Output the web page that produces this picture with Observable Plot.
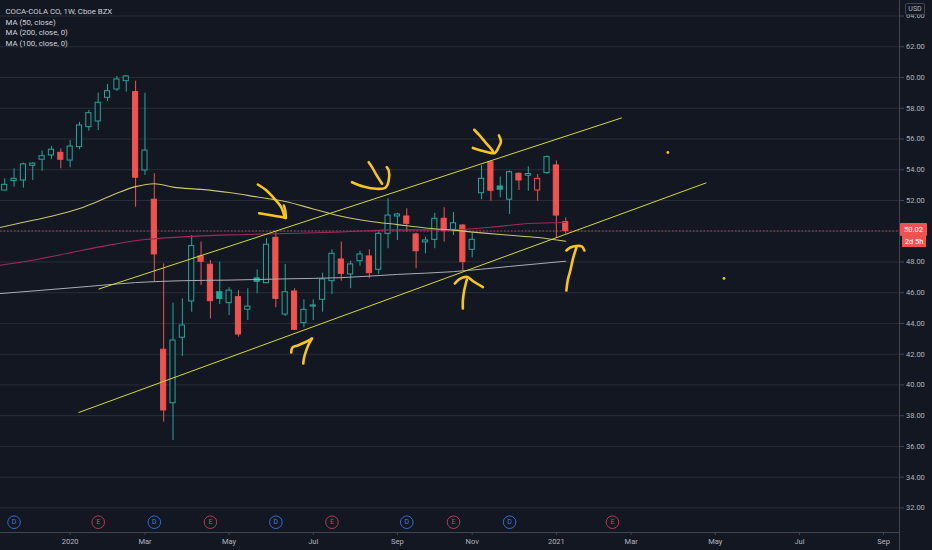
<!DOCTYPE html>
<html><head><meta charset="utf-8">
<script src="https://cdn.jsdelivr.net/npm/d3@7"></script>
<script src="https://cdn.jsdelivr.net/npm/@observablehq/plot@0.6"></script>
<style>
html,body{margin:0;padding:0;background:#131722;}
#wrap{position:relative;width:932px;height:550px;overflow:hidden;background:#131722;font-family:Roboto,"Noto Sans",sans-serif;}
.lbl{position:absolute;color:#fff;font-size:7.5px;text-align:center;line-height:12px;}
</style></head><body><div id="wrap"></div>
<script>
// ---- weekly candles (Cboe BZX, KO, 1W) ----
const dates = ["2019-11-11","2019-11-18","2019-11-25","2019-12-02","2019-12-09","2019-12-16","2019-12-23","2019-12-30",
"2020-01-06","2020-01-13","2020-01-20","2020-01-27","2020-02-03","2020-02-10","2020-02-17","2020-02-24",
"2020-03-02","2020-03-09","2020-03-16","2020-03-23","2020-03-30","2020-04-06","2020-04-13","2020-04-20",
"2020-04-27","2020-05-04","2020-05-11","2020-05-18","2020-05-25","2020-06-01","2020-06-08","2020-06-15",
"2020-06-22","2020-06-29","2020-07-06","2020-07-13","2020-07-20","2020-07-27","2020-08-03","2020-08-10",
"2020-08-17","2020-08-24","2020-08-31","2020-09-07","2020-09-14","2020-09-21","2020-09-28","2020-10-05",
"2020-10-12","2020-10-19","2020-10-26","2020-11-02","2020-11-09","2020-11-16","2020-11-23","2020-11-30",
"2020-12-07","2020-12-14","2020-12-21","2020-12-28","2021-01-04","2021-01-11"];
const open  = [52.45,52.65,53.26,53.30,54.26,54.65,54.93,55.10, 54.60,55.47,56.77,57.14,58.68,59.22,59.76,59.05,
53.95,52.05,42.29,38.81,43.07,45.43,48.36,47.82, 46.03,45.32,45.71,44.89,46.93,46.62,49.57,44.58,
46.08,44.02,45.10,45.54,46.75,48.16,47.19,48.05, 48.36,47.49,49.83,50.96,50.96,49.79,49.27,49.44,
50.81,50.09,50.37,48.79,52.47,54.49,52.91,52.05, 53.74,53.61,52.65,53.78,54.28,50.59];
const high  = [52.75,53.41,54.06,54.43,54.45,55.21,55.51,55.36, 55.90,57.09,57.86,58.98,59.55,60.07,60.13,59.76,
58.98,53.74,47.88,45.32,45.60,49.72,49.29,48.10, 47.99,46.32,46.14,46.26,47.49,49.51,49.94,47.84,
46.26,45.54,45.54,47.27,48.79,49.29,48.05,48.70, 48.79,49.94,52.11,51.17,51.46,49.87,49.61,51.17,
51.53,51.22,50.44,49.85,54.28,54.58,53.53,53.92, 53.79,54.19,53.69,54.90,54.57,50.87];
const low   = [52.20,52.61,52.87,52.80,53.30,53.89,54.67,54.06, 54.13,55.30,56.51,56.55,58.44,59.09,59.05,51.56,
53.63,46.68,37.58,36.39,41.85,44.73,46.47,44.30, 45.23,44.52,43.11,44.19,45.93,46.58,45.02,44.45,
43.54,43.72,44.19,44.73,45.88,46.75,46.26,47.71, 46.91,47.19,48.86,49.40,49.94,47.56,48.53,48.86,
49.29,49.72,47.41,48.27,52.05,51.95,52.18,51.09, 52.65,52.60,51.95,53.69,49.53,49.83];
const close = [52.62,53.02,53.41,54.35,54.40,54.88,55.30,54.65, 55.51,56.88,57.68,58.36,59.11,59.87,60.07,53.48,
55.25,48.49,38.34,42.89,43.87,49.03,48.01,45.45, 45.60,46.14,43.28,45.10,46.71,49.12,45.60,46.03,
43.59,44.89,45.17,46.86,48.53,47.23,47.84,48.49, 47.27,49.83,51.02,51.09,50.48,48.70,49.40,50.81,
50.02,50.52,47.99,49.44,53.41,52.63,52.70,53.84, 53.30,53.72,53.41,54.82,51.02,50.02];

// ---- moving averages ----
const ma50Dates  = ["2019-11-11","2019-12-02","2019-12-23","2020-01-13","2020-01-27","2020-02-10","2020-02-24","2020-03-09","2020-03-23","2020-04-13","2020-05-04","2020-05-25","2020-06-15","2020-07-06","2020-07-27","2020-08-17","2020-09-07","2020-09-28","2020-10-19","2020-11-09","2020-11-30","2020-12-21","2021-01-11"];
const ma50Values = [50.18,50.58,50.98,51.48,51.95,52.47,52.90,53.09,52.87,52.72,52.52,52.23,51.93,51.45,50.97,50.65,50.43,50.21,50.07,49.89,49.74,49.59,49.35];
const ma100Dates  = ["2019-11-11","2019-12-09","2020-01-06","2020-02-03","2020-03-02","2020-03-30","2020-05-04","2020-06-15","2020-07-27","2020-09-07","2020-10-19","2020-11-16","2020-12-14","2021-01-11"];
const ma100Values = [47.74,48.11,48.60,49.08,49.46,49.63,49.76,49.85,49.95,50.09,50.09,50.26,50.50,50.57];
const ma200Dates  = ["2019-11-11","2019-12-16","2020-01-20","2020-02-24","2020-03-30","2020-05-04","2020-06-15","2020-07-27","2020-09-07","2020-10-19","2020-11-30","2021-01-11"];
const ma200Values = [45.92,46.16,46.41,46.66,46.78,46.82,46.90,46.98,47.19,47.37,47.71,48.05];

// ---- axis ticks ----
const yTicks = [32,34,36,38,40,42,44,46,48,50,52,54,56,58,60,62,64];
const xTickDates  = ["2020-01-06","2020-03-02","2020-05-04","2020-07-06","2020-09-07","2020-11-02","2021-01-04","2021-03-01","2021-05-03","2021-07-05","2021-09-06"];
const xTickLabels = ["2020","Mar","May","Jul","Sep","Nov","2021","Mar","May","Jul","Sep"];

// ---- events (dividends D / earnings E) ----
const eventDates = ["2019-11-25","2020-01-27","2020-03-09","2020-04-20","2020-06-08","2020-07-20","2020-09-14","2020-10-19","2020-11-30","2021-02-15"];
const eventTypes = ["D","E","D","E","D","E","D","E","D","E"];

// ---- legend ----
const legendLines = ["COCA-COLA CO, 1W, Cboe BZX","MA (50, close)","MA (200, close, 0)","MA (100, close, 0)"];
const lastPriceText = ["50.02","2d 5h"];

// ---- user drawings (date, price) ----
const trendUpper = [["2020-01-27T12:00Z",46.24],["2021-02-21T19:00Z",57.37]];
const trendLower = [["2020-01-12T12:00Z",38.21],["2021-04-26",53.14]];
const arrows = [
 [["2020-05-25T12:00Z",53.04],["2020-06-01",52.65],["2020-06-07",52.11],["2020-06-12",51.56],["2020-06-14T12:00Z",50.91]],
 [["2020-05-26T12:00Z",51.17],["2020-06-01",51.09],["2020-06-08T12:00Z",50.98],["2020-06-15T12:00Z",50.87]],
 [["2020-06-15T12:00Z",50.87],["2020-06-15",51.35],["2020-06-14",51.67]],
 [["2020-08-16T12:00Z",54.49],["2020-08-19",54.17],["2020-08-22T12:00Z",53.63],["2020-08-26T12:00Z",53.09]],
 [["2020-08-04",53.19],["2020-08-12T12:00Z",52.91],["2020-08-22T12:00Z",52.76],["2020-08-29",52.83],["2020-08-31T12:00Z",53.30],["2020-08-31T12:00Z",53.95],["2020-08-30",54.17]],
 [["2020-11-03T12:00Z",56.60],["2020-11-07T12:00Z",56.23],["2020-11-12",55.77],["2020-11-16",55.38],["2020-11-17T12:00Z",55.19]],
 [["2020-11-02T12:00Z",55.42],["2020-11-08T12:00Z",55.25],["2020-11-14T12:00Z",55.12],["2020-11-19",55.09],["2020-11-22",55.51],["2020-11-23T12:00Z",55.84],["2020-11-22",56.23]],
 [["2020-06-19T12:00Z",42.11],["2020-06-20T12:00Z",42.44],["2020-06-24T12:00Z",42.57],["2020-06-29T12:00Z",42.76],["2020-07-05",43.02]],
 [["2020-07-05",43.02],["2020-07-02T12:00Z",42.63],["2020-06-30T12:00Z",42.18],["2020-06-29",41.72],["2020-06-28T12:00Z",41.39]],
 [["2020-10-20",46.60],["2020-10-23",46.86],["2020-10-26",46.99],["2020-10-29T12:00Z",47.02],["2020-11-03",46.73],["2020-11-10",46.37]],
 [["2020-10-29",46.86],["2020-10-27",46.14],["2020-10-26",45.49],["2020-10-26",44.97]],
 [["2021-01-11T12:00Z",48.75],["2021-01-14T12:00Z",48.94],["2021-01-19",49.04],["2021-01-23",49.01],["2021-01-25",48.75]],
 [["2021-01-19",48.94],["2021-01-16T12:00Z",48.23],["2021-01-14T12:00Z",47.45],["2021-01-12T12:00Z",46.80],["2021-01-11T12:00Z",46.14]]
];
const drawnDots = [["2021-03-28T12:00Z",55.12],["2021-05-09T12:00Z",46.93]];

// ---- build ----
const BG = "#131722", UP = "#26a69a", DOWN = "#ef5350";
const candles = dates.map((d, i) => {
  const prev = i > 0 ? close[i - 1] : open[i];
  const c = close[i] >= prev ? UP : DOWN;
  return {date: new Date(d), open: open[i], high: high[i], low: low[i], close: close[i], color: c, hollow: close[i] > open[i]};
});
const series = (ds, vs) => ds.map((d, i) => ({date: new Date(d), value: vs[i]}));
const ma50 = series(ma50Dates, ma50Values), ma100 = series(ma100Dates, ma100Values), ma200 = series(ma200Dates, ma200Values);
const pts = a => a.map(([d, p]) => ({date: new Date(d), value: p}));
const tickLabelByTime = new Map(xTickDates.map((d, i) => [+new Date(d), xTickLabels[i]]));
const events = eventDates.map((d, i) => ({date: new Date(d), type: eventTypes[i]}));
const lastClose = close[close.length - 1];
// the axis label under the last-price tag is hidden, as in TradingView
const yLabelTicks = yTicks.filter(t => Math.abs(t - lastClose) > 1);
const xDomain = [new Date("2019-11-14T20:24Z"), new Date("2021-09-17T21:36Z")];
const yDomain = [30.40, 65.01];
const half = 84; // hours: half a weekly slot

const marks = [
  Plot.gridY(yTicks, {stroke: "#2a2e39", strokeOpacity: 1}),
  Plot.ruleY([lastClose], {stroke: DOWN, strokeOpacity: 0.75, strokeDasharray: "1.5,2"}),
  Plot.ruleX(candles, {x: "date", y1: "low", y2: "high", stroke: "color", strokeWidth: 1, clip: true}),
  Plot.rect(candles, {x1: d => d3.utcHour.offset(d.date, -half), x2: d => d3.utcHour.offset(d.date, half),
    y1: "open", y2: "close", fill: d => d.hollow ? BG : d.color, stroke: "color", strokeWidth: 1,
    insetLeft: 2.1, insetRight: 2.1, clip: true}),
  Plot.line(ma200, {x: "date", y: "value", stroke: "#a9acb4", strokeWidth: 1, curve: "monotone-x", clip: true}),
  Plot.line(ma100, {x: "date", y: "value", stroke: "#a3295a", strokeWidth: 1.1, curve: "monotone-x", clip: true}),
  Plot.line(ma50, {x: "date", y: "value", stroke: "#cbc46a", strokeWidth: 1.1, curve: "monotone-x", clip: true}),
  Plot.line(pts(trendUpper), {x: "date", y: "value", stroke: "#d2db2c", strokeWidth: 1}),
  Plot.line(pts(trendLower), {x: "date", y: "value", stroke: "#d2db2c", strokeWidth: 1}),
  ...arrows.map(a => Plot.line(pts(a), {x: "date", y: "value", stroke: "#f7c51e", strokeWidth: 2.6,
    strokeLinecap: "round", strokeLinejoin: "round", curve: "catmull-rom"})),
  Plot.dot(pts(drawnDots), {x: "date", y: "value", r: 1.4, fill: "#f7c51e"}),
  Plot.dot(events, {x: "date", frameAnchor: "bottom", dy: -10.3, r: 6.3, fill: BG, strokeWidth: 1,
    stroke: d => d.type === "D" ? "#2f6fd8" : "#b8395a"}),
  Plot.text(events, {x: "date", frameAnchor: "bottom", lineAnchor: "middle", dy: -10.3, text: "type", fontSize: 7,
    fill: d => d.type === "D" ? "#3d7fe6" : "#c84565"}),
  Plot.ruleY([yDomain[0]], {stroke: "#434651"}),
  Plot.ruleX([xDomain[1]], {y1: 29, y2: 66, stroke: "#434651"}),
  Plot.axisY({anchor: "right", ticks: yLabelTicks, tickFormat: d => d.toFixed(2), tickSize: 4, tickPadding: 2.5,
    stroke: "#434651", fill: "#b2b5be", label: null}),
  Plot.axisX({ticks: xTickDates.map(d => new Date(d)), tickFormat: d => tickLabelByTime.get(+d), tickSize: 3,
    tickPadding: 3, stroke: "#434651", fill: "#b2b5be", label: null}),
  ...legendLines.map((t, i) => Plot.text([t], {frameAnchor: "top-left", dx: 5, dy: [10.7, 21.7, 32.4, 43.3][i],
    text: d => d, lineAnchor: "middle", textAnchor: "start", fill: "#d1d4dc", fontSize: 7.8}))
];

const chart = Plot.plot({
  width: 932, height: 550, marginLeft: 0, marginRight: 33, marginTop: 0, marginBottom: 18,
  style: {background: BG, color: "#b2b5be", fontFamily: "Roboto, 'Noto Sans', sans-serif", fontSize: "7.5px", overflow: "hidden"},
  x: {type: "utc", domain: xDomain},
  y: {domain: yDomain},
  marks
});
const wrap = document.getElementById("wrap");
wrap.appendChild(chart);

// last price tag and currency box, positioned through the y scale
const yPx = chart.scale("y").apply(lastClose);
const xPx = chart.scale("x").apply(xDomain[1]);
const tag1 = document.createElement("div");
tag1.className = "lbl";
Object.assign(tag1.style, {left: (xPx + 1) + "px", top: (yPx - 7) + "px", width: "27px", height: "13px", lineHeight: "13px", background: "#ef5350", borderRadius: "1px"});
tag1.textContent = lastPriceText[0];
const tag2 = document.createElement("div");
tag2.className = "lbl";
Object.assign(tag2.style, {left: (xPx + 3) + "px", top: (yPx + 6) + "px", width: "24px", height: "11px", lineHeight: "11px", background: "#ef5350"});
tag2.textContent = lastPriceText[1];
const usd = document.createElement("div");
Object.assign(usd.style, {position: "absolute", left: (xPx + 6) + "px", top: "3px", width: "18px", height: "10px",
  border: "1px solid #434651", borderRadius: "2px", background: BG, color: "#b2b5be", fontSize: "7px", lineHeight: "10px", textAlign: "center"});
usd.textContent = "USD";
wrap.appendChild(tag1); wrap.appendChild(tag2); wrap.appendChild(usd);
</script></body></html>
